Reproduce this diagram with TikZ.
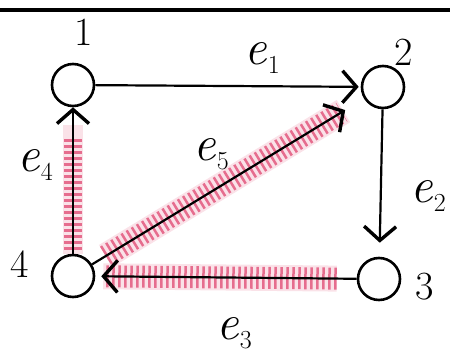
\documentclass[tikz,border=0pt]{standalone}
\usepackage{fontspec}
\usetikzlibrary{arrows.meta}
\definecolor{hatchred}{RGB}{222,60,105}
\definecolor{hatchpale}{RGB}{245,190,205}
\newcommand{\elab}[1]{{\fontsize{50}{52}\selectfont\textit{e}}\kern1pt\raisebox{-0.5ex}{\fontsize{26}{28}\selectfont #1}}
\begin{document}
\begin{tikzpicture}[x=1pt,y=-1pt,
  vtx/.style={circle,draw,line width=2.6pt,minimum size=42pt,inner sep=0pt},
  edge/.style={line width=2.2pt,-{Straight Barb[length=14pt,width=32pt,line width=3.4pt]}},
  hatchband/.style={hatchpale,line width=26pt,opacity=0.45},
  hatch/.style={hatchred,line width=22pt,dash pattern=on 2.5pt off 3.5pt,opacity=0.7},
  lbl/.style={font=\fontsize{40}{42}\selectfont,inner sep=0pt}]
\useasboundingbox (0,0) rectangle (450,358);
\draw[line width=3.5pt] (0,10) -- (450,10);
\node[vtx] (n1) at (73,85) {};
\node[vtx] (n2) at (383,87) {};
\node[vtx] (n3) at (379,279) {};
\node[vtx] (n4) at (73,276) {};
% hatching
\draw[hatchband,line width=20pt,shorten <=0pt,shorten >=18pt] (n4) -- (n1);
\draw[hatch,line width=18pt,shorten <=4pt,shorten >=30pt] (n4) -- (n1);
\draw[hatchband,shorten <=16pt,shorten >=24pt] (n4) -- (n2);
\draw[hatch,shorten <=16pt,shorten >=26pt] (n4) -- (n2);
\draw[hatchband,shorten <=20pt,shorten >=8pt] (n3) -- (n4);
\draw[hatch,shorten <=20pt,shorten >=10pt] (n3) -- (n4);
% edges
\draw[edge,shorten >=2pt] (n1) -- (n2);
\draw[edge,shorten >=14pt] (n2) -- (n3);
\draw[edge,shorten >=6pt] (n3) -- (n4);
\draw[edge,shorten >=0pt] (n4) -- (n1);
\draw[edge,shorten >=22pt] (n4) -- (n2);
% labels
\node[lbl] (l1) at (84,32) {1};
\node[lbl] (l2) at (404,52) {2};
\node[lbl] (l3) at (425,287) {3};
\node[lbl] (l4) at (20,264) {4};
\node[lbl] (le1) at (262,58) {\elab{1}};
\node[lbl] (le2) at (428,196) {\elab{2}};
\node[lbl] (le3) at (234,333) {\elab{3}};
\node[lbl] (le4) at (35,165) {\elab{4}};
\node[lbl] (le5) at (211,154) {\elab{5}};
\end{tikzpicture}
\end{document}
